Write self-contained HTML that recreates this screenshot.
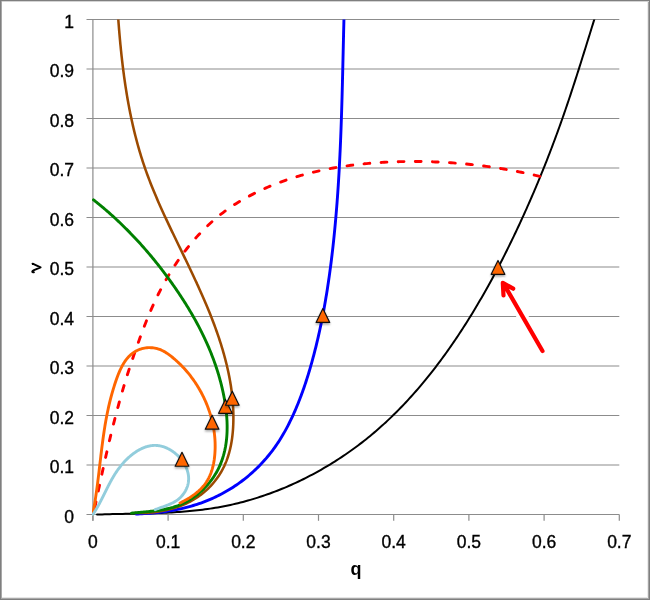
<!DOCTYPE html>
<html><head><meta charset="utf-8"><style>
html,body{margin:0;padding:0;background:#fff;}
body{width:650px;height:600px;position:relative;overflow:hidden;font-family:"Liberation Sans",sans-serif;color:#000;}
#frame{position:absolute;left:0;top:0;width:648px;height:598px;border:1px solid #7f7f7f;box-shadow:inset 1px 0 0 #a8a8a8, inset 0 1px 0 #d4d4d4, inset -1px 0 0 #a4a4a4, inset 0 -1px 0 #a8a8a8, inset -2px 0 0 #ececec, inset 0 -2px 0 #e6e6e6;}
#txt{position:absolute;left:0;top:0;width:650px;height:600px;will-change:transform;}
svg{position:absolute;left:0;top:0;}
.g{stroke:#8c8c8c;stroke-width:1.2;}
.yl{position:absolute;right:576px;-webkit-text-stroke:0.35px #000;font-size:17.5px;line-height:20px;text-align:right;white-space:nowrap;}
.xl{position:absolute;top:532px;-webkit-text-stroke:0.35px #000;width:60px;font-size:17.5px;line-height:20px;text-align:center;}
#qt{position:absolute;left:330px;top:559px;width:52px;text-align:center;font-size:18px;font-weight:bold;line-height:20px;}
#vt{position:absolute;left:25px;top:257px;width:20px;height:20px;font-size:19px;font-weight:bold;line-height:20px;text-align:center;transform:rotate(-90deg);}
</style></head><body>
<div id="frame"></div>
<svg width="650" height="600" viewBox="0 0 650 600">
<defs><filter id="sh" x="-50%" y="-50%" width="200%" height="200%"><feDropShadow dx="0" dy="1.6" stdDeviation="1.1" flood-color="#000" flood-opacity="0.35"/></filter><clipPath id="pc"><rect x="92" y="19.5" width="540" height="500"/></clipPath></defs>
<line x1="86.5" y1="514.50" x2="619.3" y2="514.50" class="g"/>
<line x1="86.5" y1="465.00" x2="619.3" y2="465.00" class="g"/>
<line x1="86.5" y1="415.50" x2="619.3" y2="415.50" class="g"/>
<line x1="86.5" y1="366.00" x2="619.3" y2="366.00" class="g"/>
<line x1="86.5" y1="316.50" x2="619.3" y2="316.50" class="g"/>
<line x1="86.5" y1="267.00" x2="619.3" y2="267.00" class="g"/>
<line x1="86.5" y1="217.50" x2="619.3" y2="217.50" class="g"/>
<line x1="86.5" y1="168.00" x2="619.3" y2="168.00" class="g"/>
<line x1="86.5" y1="118.50" x2="619.3" y2="118.50" class="g"/>
<line x1="86.5" y1="69.00" x2="619.3" y2="69.00" class="g"/>
<line x1="86.5" y1="19.50" x2="619.3" y2="19.50" class="g"/>
<line x1="92.90" y1="19.5" x2="92.90" y2="520.8" class="g"/>
<line x1="92.90" y1="514.5" x2="92.90" y2="520.8" class="g"/>
<line x1="168.10" y1="514.5" x2="168.10" y2="520.8" class="g"/>
<line x1="243.30" y1="514.5" x2="243.30" y2="520.8" class="g"/>
<line x1="318.50" y1="514.5" x2="318.50" y2="520.8" class="g"/>
<line x1="393.70" y1="514.5" x2="393.70" y2="520.8" class="g"/>
<line x1="468.90" y1="514.5" x2="468.90" y2="520.8" class="g"/>
<line x1="544.10" y1="514.5" x2="544.10" y2="520.8" class="g"/>
<line x1="619.30" y1="514.5" x2="619.30" y2="520.8" class="g"/>
<g clip-path="url(#pc)" fill="none" stroke-linecap="round" stroke-linejoin="round">
<path d="M97.04 514.54 L99.60 514.46 L102.16 514.38 L104.72 514.31 L107.29 514.24 L109.86 514.18 L112.43 514.12 L115.00 514.06 L117.57 514.01 L120.15 513.96 L122.72 513.91 L125.30 513.86 L127.88 513.81 L130.46 513.76 L133.04 513.71 L135.62 513.66 L138.20 513.60 L140.78 513.54 L143.36 513.48 L145.95 513.41 L148.53 513.34 L151.11 513.26 L153.69 513.18 L156.28 513.09 L158.86 513.00 L161.44 512.89 L164.02 512.78 L166.60 512.66 L169.18 512.53 L171.75 512.38 L174.33 512.23 L176.90 512.07 L179.48 511.89 L182.05 511.70 L184.62 511.50 L187.19 511.28 L189.75 511.05 L192.32 510.81 L194.88 510.55 L197.44 510.27 L199.99 509.98 L202.55 509.67 L205.10 509.34 L207.64 508.99 L210.19 508.62 L212.73 508.23 L215.27 507.82 L217.80 507.40 L220.33 506.95 L222.86 506.47 L225.39 505.98 L227.91 505.46 L230.42 504.92 L232.93 504.36 L235.44 503.78 L237.94 503.18 L240.44 502.55 L242.93 501.91 L245.41 501.24 L247.90 500.55 L250.37 499.84 L252.84 499.11 L255.31 498.36 L257.77 497.59 L260.22 496.80 L262.67 495.99 L265.11 495.16 L267.54 494.31 L269.97 493.44 L272.39 492.55 L274.80 491.64 L277.21 490.71 L279.61 489.76 L282.00 488.79 L284.39 487.81 L286.77 486.80 L289.14 485.78 L291.50 484.73 L293.85 483.67 L296.20 482.59 L298.53 481.49 L300.86 480.38 L303.18 479.24 L305.49 478.09 L307.79 476.92 L310.08 475.73 L312.37 474.52 L314.64 473.30 L316.91 472.06 L319.17 470.81 L321.41 469.53 L323.65 468.24 L325.88 466.94 L328.10 465.62 L330.31 464.28 L332.50 462.93 L334.69 461.56 L336.87 460.17 L339.04 458.77 L341.20 457.35 L343.34 455.92 L345.48 454.47 L347.60 453.01 L349.72 451.53 L351.82 450.04 L353.91 448.53 L355.98 447.01 L358.05 445.47 L360.10 443.91 L362.14 442.34 L364.17 440.76 L366.18 439.16 L368.19 437.55 L370.18 435.92 L372.15 434.27 L374.12 432.62 L376.07 430.95 L378.01 429.26 L379.94 427.56 L381.86 425.85 L383.76 424.13 L385.66 422.39 L387.54 420.64 L389.41 418.88 L391.27 417.10 L393.11 415.31 L394.95 413.51 L396.77 411.70 L398.58 409.87 L400.38 408.04 L402.17 406.19 L403.95 404.33 L405.71 402.46 L407.47 400.57 L409.21 398.68 L410.95 396.78 L412.67 394.86 L414.38 392.94 L416.08 391.00 L417.77 389.05 L419.45 387.10 L421.12 385.13 L422.78 383.16 L424.43 381.17 L426.07 379.18 L427.69 377.18 L429.31 375.16 L430.92 373.14 L432.52 371.11 L434.10 369.08 L435.68 367.03 L437.25 364.98 L438.80 362.91 L440.35 360.84 L441.89 358.76 L443.42 356.68 L444.94 354.59 L446.45 352.49 L447.95 350.38 L449.44 348.27 L450.92 346.15 L452.39 344.02 L453.85 341.88 L455.31 339.75 L456.75 337.60 L458.19 335.45 L459.61 333.29 L461.03 331.13 L462.44 328.96 L463.84 326.79 L465.23 324.61 L466.62 322.43 L467.99 320.24 L469.36 318.05 L470.72 315.85 L472.07 313.65 L473.41 311.45 L474.74 309.24 L476.07 307.02 L477.39 304.81 L478.70 302.59 L480.00 300.36 L481.29 298.13 L482.58 295.90 L483.86 293.66 L485.13 291.42 L486.39 289.18 L487.65 286.93 L488.90 284.68 L490.14 282.42 L491.38 280.16 L492.61 277.90 L493.83 275.63 L495.04 273.36 L496.25 271.09 L497.45 268.82 L498.64 266.54 L499.83 264.25 L501.01 261.97 L502.19 259.68 L503.36 257.38 L504.52 255.09 L505.68 252.79 L506.83 250.49 L507.97 248.18 L509.11 245.87 L510.24 243.56 L511.37 241.25 L512.49 238.93 L513.61 236.61 L514.72 234.29 L515.82 231.96 L516.92 229.63 L518.02 227.30 L519.11 224.97 L520.19 222.63 L521.27 220.29 L522.34 217.95 L523.41 215.61 L524.47 213.26 L525.53 210.91 L526.59 208.56 L527.63 206.20 L528.67 203.85 L529.71 201.49 L530.74 199.13 L531.77 196.76 L532.79 194.40 L533.81 192.03 L534.82 189.65 L535.82 187.28 L536.82 184.91 L537.82 182.53 L538.81 180.15 L539.79 177.76 L540.77 175.38 L541.75 172.99 L542.72 170.60 L543.68 168.21 L544.64 165.82 L545.59 163.42 L546.54 161.02 L547.48 158.62 L548.42 156.22 L549.35 153.82 L550.28 151.41 L551.20 149.00 L552.12 146.59 L553.03 144.18 L553.94 141.77 L554.84 139.35 L555.74 136.94 L556.63 134.52 L557.52 132.09 L558.40 129.67 L559.27 127.25 L560.14 124.82 L561.01 122.39 L561.87 119.96 L562.73 117.53 L563.58 115.10 L564.42 112.66 L565.26 110.23 L566.10 107.79 L566.93 105.35 L567.76 102.91 L568.58 100.47 L569.40 98.02 L570.21 95.58 L571.02 93.13 L571.83 90.68 L572.63 88.24 L573.43 85.79 L574.23 83.34 L575.03 80.88 L575.82 78.43 L576.61 75.98 L577.39 73.52 L578.18 71.07 L578.96 68.61 L579.74 66.16 L580.51 63.70 L581.29 61.24 L582.06 58.78 L582.83 56.32 L583.60 53.86 L584.37 51.40 L585.14 48.94 L585.91 46.48 L586.67 44.02 L587.44 41.56 L588.20 39.10 L588.97 36.64 L589.73 34.18 L590.49 31.71 L591.26 29.25 L592.02 26.79 L592.79 24.33 L593.55 21.87 L594.32 19.41" stroke="#000" stroke-width="2"/>
<path d="M93.34 514.57 L93.80 512.40 L94.25 510.23 L94.70 508.06 L95.16 505.89 L95.61 503.71 L96.07 501.54 L96.52 499.37 L96.98 497.19 L97.44 495.02 L97.90 492.85 L98.35 490.67 L98.81 488.50 L99.28 486.32 L99.74 484.15 L100.20 481.98 L100.67 479.80 L101.14 477.63 L101.61 475.46 L102.08 473.28 L102.55 471.11 L103.03 468.94 L103.50 466.77 L103.98 464.60 L104.47 462.43 L104.95 460.25 L105.44 458.08 L105.93 455.92 L106.42 453.75 L106.92 451.58 L107.41 449.41 L107.91 447.24 L108.42 445.08 L108.93 442.91 L109.44 440.75 L109.95 438.59 L110.47 436.42 L110.99 434.26 L111.52 432.10 L112.05 429.94 L112.58 427.78 L113.12 425.63 L113.66 423.47 L114.21 421.32 L114.76 419.16 L115.31 417.01 L115.87 414.86 L116.44 412.71 L117.00 410.56 L117.58 408.42 L118.16 406.27 L118.74 404.13 L119.33 401.99 L119.92 399.85 L120.52 397.71 L121.13 395.57 L121.74 393.43 L122.36 391.30 L122.98 389.17 L123.61 387.04 L124.24 384.91 L124.88 382.79 L125.53 380.66 L126.18 378.54 L126.84 376.42 L127.51 374.30 L128.18 372.19 L128.86 370.08 L129.54 367.97 L130.24 365.86 L130.93 363.75 L131.64 361.64 L132.35 359.54 L133.06 357.44 L133.78 355.34 L134.51 353.24 L135.24 351.15 L135.98 349.05 L136.72 346.96 L137.47 344.86 L138.22 342.77 L138.97 340.68 L139.73 338.60 L140.50 336.51 L141.27 334.42 L142.04 332.34 L142.82 330.26 L143.61 328.18 L144.41 326.10 L145.21 324.03 L146.02 321.96 L146.84 319.90 L147.68 317.83 L148.52 315.78 L149.37 313.72 L150.24 311.68 L151.12 309.64 L152.01 307.60 L152.91 305.57 L153.83 303.54 L154.77 301.53 L155.71 299.51 L156.67 297.51 L157.65 295.51 L158.64 293.52 L159.64 291.54 L160.66 289.56 L161.69 287.60 L162.74 285.64 L163.80 283.69 L164.88 281.74 L165.97 279.81 L167.08 277.89 L168.20 275.97 L169.34 274.07 L170.50 272.17 L171.66 270.28 L172.85 268.41 L174.05 266.54 L175.27 264.69 L176.50 262.84 L177.75 261.01 L179.01 259.19 L180.29 257.38 L181.59 255.58 L182.91 253.80 L184.24 252.02 L185.58 250.26 L186.95 248.51 L188.33 246.78 L189.72 245.06 L191.14 243.35 L192.57 241.65 L194.02 239.97 L195.49 238.30 L196.97 236.65 L198.47 235.01 L199.99 233.38 L201.53 231.77 L203.08 230.18 L204.66 228.61 L206.25 227.05 L207.85 225.51 L209.48 223.98 L211.12 222.48 L212.79 220.99 L214.47 219.53 L216.16 218.09 L217.88 216.66 L219.61 215.26 L221.37 213.88 L223.14 212.53 L224.93 211.20 L226.73 209.89 L228.55 208.60 L230.39 207.34 L232.25 206.10 L234.12 204.88 L236.00 203.68 L237.90 202.50 L239.81 201.35 L241.73 200.22 L243.66 199.10 L245.61 198.01 L247.56 196.94 L249.53 195.89 L251.50 194.85 L253.48 193.84 L255.47 192.84 L257.46 191.87 L259.47 190.91 L261.48 189.97 L263.49 189.05 L265.52 188.15 L267.55 187.26 L269.59 186.40 L271.63 185.55 L273.69 184.72 L275.74 183.90 L277.81 183.11 L279.88 182.33 L281.96 181.57 L284.04 180.82 L286.13 180.09 L288.22 179.38 L290.32 178.69 L292.43 178.01 L294.54 177.34 L296.66 176.70 L298.78 176.07 L300.91 175.45 L303.04 174.85 L305.17 174.27 L307.32 173.70 L309.46 173.15 L311.61 172.61 L313.77 172.08 L315.93 171.57 L318.09 171.08 L320.25 170.60 L322.43 170.13 L324.60 169.68 L326.78 169.24 L328.96 168.82 L331.14 168.41 L333.33 168.01 L335.52 167.63 L337.72 167.26 L339.91 166.90 L342.11 166.56 L344.31 166.23 L346.52 165.91 L348.73 165.60 L350.94 165.31 L353.15 165.03 L355.36 164.76 L357.58 164.50 L359.79 164.25 L362.01 164.02 L364.23 163.80 L366.45 163.58 L368.68 163.38 L370.90 163.19 L373.13 163.02 L375.35 162.85 L377.58 162.69 L379.81 162.54 L382.03 162.41 L384.26 162.28 L386.49 162.17 L388.72 162.06 L390.95 161.96 L393.18 161.87 L395.41 161.80 L397.64 161.73 L399.86 161.67 L402.09 161.62 L404.32 161.58 L406.54 161.54 L408.77 161.52 L411.00 161.50 L413.22 161.50 L415.44 161.50 L417.67 161.51 L419.89 161.53 L422.11 161.56 L424.33 161.60 L426.55 161.65 L428.77 161.70 L430.99 161.77 L433.21 161.84 L435.43 161.93 L437.65 162.02 L439.86 162.12 L442.08 162.23 L444.29 162.35 L446.51 162.48 L448.72 162.62 L450.93 162.76 L453.15 162.92 L455.36 163.08 L457.57 163.26 L459.78 163.44 L461.99 163.63 L464.19 163.83 L466.40 164.04 L468.61 164.26 L470.81 164.49 L473.02 164.73 L475.22 164.97 L477.42 165.23 L479.63 165.49 L481.83 165.76 L484.03 166.05 L486.23 166.34 L488.42 166.64 L490.62 166.95 L492.82 167.27 L495.01 167.60 L497.21 167.93 L499.40 168.28 L501.59 168.64 L503.79 169.00 L505.98 169.37 L508.17 169.76 L510.35 170.15 L512.54 170.55 L514.73 170.96 L516.91 171.38 L519.10 171.81 L521.28 172.25 L523.47 172.70 L525.65 173.15 L527.83 173.62 L530.01 174.09 L532.19 174.58 L534.36 175.07 L536.54 175.57 L538.71 176.09 L540.89 176.61" stroke="#f00" stroke-width="2.9" stroke-dasharray="5.80 11.32" stroke-dashoffset="10.07"/>
<path d="M136.00 514.03 L137.99 513.96 L139.99 513.88 L141.98 513.78 L143.98 513.67 L145.97 513.54 L147.97 513.41 L149.96 513.26 L151.96 513.09 L153.95 512.91 L155.95 512.71 L157.94 512.50 L159.93 512.27 L161.92 512.03 L163.91 511.76 L165.90 511.48 L167.88 511.19 L169.86 510.87 L171.84 510.54 L173.81 510.18 L175.78 509.81 L177.74 509.42 L179.70 509.01 L181.66 508.57 L183.61 508.12 L185.55 507.64 L187.49 507.14 L189.42 506.62 L191.35 506.08 L193.27 505.51 L195.18 504.92 L197.08 504.31 L198.98 503.67 L200.87 503.01 L202.75 502.33 L204.62 501.62 L206.48 500.89 L208.34 500.13 L210.18 499.35 L212.01 498.55 L213.84 497.73 L215.65 496.88 L217.45 496.01 L219.24 495.12 L221.02 494.20 L222.79 493.26 L224.54 492.30 L226.28 491.32 L228.01 490.32 L229.73 489.29 L231.43 488.24 L233.12 487.17 L234.79 486.07 L236.45 484.96 L238.10 483.82 L239.73 482.66 L241.34 481.48 L242.94 480.28 L244.52 479.06 L246.09 477.81 L247.64 476.54 L249.17 475.26 L250.69 473.95 L252.19 472.63 L253.67 471.28 L255.13 469.91 L256.58 468.53 L258.01 467.13 L259.42 465.70 L260.81 464.26 L262.18 462.81 L263.53 461.33 L264.86 459.84 L266.18 458.33 L267.47 456.80 L268.75 455.26 L270.00 453.70 L271.24 452.12 L272.45 450.53 L273.64 448.93 L274.81 447.30 L275.96 445.67 L277.09 444.02 L278.20 442.36 L279.29 440.68 L280.36 438.99 L281.41 437.29 L282.44 435.57 L283.45 433.85 L284.44 432.11 L285.42 430.36 L286.38 428.61 L287.32 426.84 L288.24 425.06 L289.15 423.28 L290.04 421.48 L290.92 419.68 L291.78 417.87 L292.63 416.06 L293.46 414.24 L294.28 412.41 L295.09 410.58 L295.88 408.74 L296.66 406.89 L297.43 405.04 L298.18 403.18 L298.92 401.32 L299.65 399.46 L300.37 397.58 L301.08 395.71 L301.77 393.83 L302.46 391.94 L303.13 390.05 L303.79 388.16 L304.44 386.27 L305.08 384.36 L305.72 382.46 L306.34 380.55 L306.95 378.64 L307.55 376.73 L308.15 374.82 L308.73 372.90 L309.31 370.98 L309.88 369.06 L310.44 367.13 L310.99 365.20 L311.54 363.28 L312.08 361.35 L312.61 359.41 L313.13 357.48 L313.64 355.55 L314.15 353.61 L314.65 351.67 L315.15 349.73 L315.64 347.79 L316.12 345.85 L316.59 343.90 L317.06 341.96 L317.52 340.01 L317.97 338.06 L318.42 336.11 L318.86 334.16 L319.29 332.21 L319.72 330.25 L320.14 328.30 L320.55 326.34 L320.96 324.38 L321.37 322.43 L321.76 320.46 L322.15 318.50 L322.54 316.54 L322.92 314.58 L323.29 312.61 L323.66 310.65 L324.02 308.68 L324.38 306.71 L324.73 304.74 L325.08 302.77 L325.42 300.80 L325.75 298.83 L326.08 296.86 L326.41 294.89 L326.73 292.91 L327.05 290.94 L327.36 288.96 L327.66 286.98 L327.96 285.01 L328.26 283.03 L328.55 281.05 L328.84 279.07 L329.12 277.09 L329.40 275.11 L329.68 273.13 L329.95 271.15 L330.21 269.16 L330.48 267.18 L330.73 265.20 L330.99 263.21 L331.24 261.23 L331.49 259.25 L331.73 257.26 L331.97 255.27 L332.20 253.29 L332.43 251.30 L332.66 249.32 L332.89 247.33 L333.11 245.34 L333.32 243.35 L333.54 241.36 L333.75 239.37 L333.96 237.38 L334.16 235.40 L334.36 233.40 L334.55 231.41 L334.75 229.42 L334.94 227.43 L335.12 225.44 L335.31 223.45 L335.49 221.46 L335.67 219.46 L335.84 217.47 L336.01 215.48 L336.18 213.48 L336.34 211.49 L336.51 209.49 L336.67 207.50 L336.82 205.51 L336.98 203.51 L337.13 201.51 L337.27 199.52 L337.42 197.52 L337.56 195.53 L337.70 193.53 L337.84 191.53 L337.97 189.54 L338.11 187.54 L338.24 185.54 L338.36 183.54 L338.49 181.54 L338.61 179.55 L338.73 177.55 L338.85 175.55 L338.97 173.55 L339.08 171.55 L339.19 169.55 L339.30 167.55 L339.41 165.55 L339.51 163.55 L339.61 161.55 L339.71 159.55 L339.81 157.55 L339.91 155.55 L340.00 153.55 L340.10 151.55 L340.19 149.55 L340.28 147.55 L340.37 145.55 L340.45 143.55 L340.54 141.55 L340.62 139.54 L340.70 137.54 L340.78 135.54 L340.86 133.54 L340.93 131.54 L341.01 129.54 L341.08 127.53 L341.15 125.53 L341.22 123.53 L341.29 121.53 L341.36 119.53 L341.43 117.53 L341.49 115.52 L341.56 113.52 L341.62 111.52 L341.68 109.52 L341.74 107.52 L341.80 105.51 L341.86 103.51 L341.92 101.51 L341.98 99.51 L342.04 97.51 L342.09 95.50 L342.15 93.50 L342.20 91.50 L342.25 89.50 L342.30 87.50 L342.36 85.49 L342.41 83.49 L342.46 81.49 L342.51 79.49 L342.56 77.49 L342.61 75.49 L342.66 73.49 L342.70 71.49 L342.75 69.49 L342.80 67.48 L342.85 65.48 L342.89 63.48 L342.94 61.48 L342.99 59.48 L343.03 57.48 L343.08 55.48 L343.13 53.48 L343.17 51.48 L343.22 49.49 L343.27 47.49 L343.31 45.49 L343.36 43.49 L343.41 41.49 L343.45 39.49 L343.50 37.49 L343.55 35.50 L343.59 33.50 L343.64 31.50 L343.69 29.50 L343.74 27.51 L343.79 25.51 L343.84 23.51 L343.89 21.52 L343.94 19.52" stroke="#0000ff" stroke-width="2.9"/>
<path d="M118.30 19.52 L118.44 21.42 L118.59 23.32 L118.74 25.22 L118.89 27.13 L119.04 29.03 L119.20 30.94 L119.36 32.84 L119.52 34.75 L119.69 36.66 L119.86 38.57 L120.03 40.48 L120.21 42.39 L120.39 44.30 L120.58 46.21 L120.77 48.12 L120.96 50.03 L121.16 51.95 L121.36 53.86 L121.57 55.77 L121.78 57.68 L121.99 59.60 L122.21 61.51 L122.43 63.42 L122.66 65.33 L122.90 67.25 L123.14 69.16 L123.38 71.07 L123.63 72.98 L123.88 74.89 L124.14 76.80 L124.41 78.71 L124.68 80.62 L124.95 82.53 L125.24 84.44 L125.52 86.34 L125.82 88.25 L126.12 90.16 L126.42 92.06 L126.73 93.96 L127.05 95.87 L127.37 97.77 L127.70 99.67 L128.04 101.56 L128.38 103.46 L128.73 105.36 L129.09 107.25 L129.45 109.14 L129.82 111.04 L130.19 112.92 L130.58 114.81 L130.97 116.70 L131.37 118.58 L131.77 120.47 L132.18 122.35 L132.60 124.22 L133.03 126.10 L133.47 127.97 L133.91 129.85 L134.36 131.72 L134.82 133.58 L135.29 135.45 L135.76 137.31 L136.24 139.17 L136.73 141.03 L137.23 142.88 L137.74 144.74 L138.26 146.59 L138.78 148.43 L139.32 150.28 L139.86 152.12 L140.41 153.96 L140.97 155.79 L141.54 157.62 L142.12 159.45 L142.70 161.28 L143.30 163.10 L143.91 164.92 L144.52 166.73 L145.15 168.55 L145.78 170.35 L146.42 172.16 L147.08 173.96 L147.74 175.76 L148.41 177.56 L149.09 179.35 L149.78 181.14 L150.47 182.92 L151.17 184.71 L151.88 186.49 L152.60 188.27 L153.33 190.04 L154.06 191.82 L154.80 193.59 L155.54 195.35 L156.29 197.12 L157.05 198.88 L157.81 200.65 L158.58 202.41 L159.36 204.16 L160.14 205.92 L160.92 207.67 L161.71 209.42 L162.50 211.17 L163.30 212.92 L164.10 214.67 L164.91 216.42 L165.72 218.16 L166.53 219.90 L167.35 221.65 L168.17 223.39 L168.99 225.13 L169.82 226.86 L170.64 228.60 L171.47 230.34 L172.31 232.08 L173.14 233.81 L173.97 235.55 L174.81 237.28 L175.65 239.01 L176.49 240.75 L177.33 242.48 L178.16 244.21 L179.00 245.95 L179.84 247.68 L180.68 249.41 L181.52 251.14 L182.36 252.88 L183.20 254.61 L184.04 256.34 L184.88 258.08 L185.72 259.81 L186.55 261.54 L187.38 263.28 L188.22 265.01 L189.05 266.75 L189.87 268.49 L190.70 270.22 L191.52 271.96 L192.35 273.70 L193.16 275.44 L193.98 277.18 L194.79 278.92 L195.60 280.67 L196.41 282.41 L197.21 284.16 L198.01 285.90 L198.80 287.65 L199.59 289.40 L200.38 291.15 L201.16 292.90 L201.94 294.66 L202.71 296.41 L203.48 298.17 L204.24 299.93 L205.00 301.69 L205.75 303.46 L206.50 305.22 L207.24 306.99 L207.97 308.76 L208.70 310.53 L209.42 312.31 L210.14 314.09 L210.84 315.87 L211.54 317.65 L212.24 319.43 L212.92 321.22 L213.60 323.01 L214.27 324.80 L214.94 326.60 L215.59 328.40 L216.24 330.20 L216.88 332.00 L217.51 333.81 L218.13 335.62 L218.74 337.43 L219.35 339.25 L219.94 341.07 L220.53 342.89 L221.10 344.72 L221.67 346.55 L222.22 348.39 L222.77 350.23 L223.30 352.07 L223.83 353.91 L224.34 355.76 L224.84 357.62 L225.34 359.47 L225.81 361.33 L226.28 363.20 L226.74 365.06 L227.18 366.93 L227.61 368.81 L228.03 370.69 L228.43 372.57 L228.82 374.45 L229.19 376.34 L229.56 378.23 L229.90 380.12 L230.24 382.02 L230.55 383.92 L230.86 385.82 L231.14 387.73 L231.41 389.64 L231.67 391.55 L231.90 393.46 L232.13 395.38 L232.33 397.30 L232.52 399.22 L232.69 401.15 L232.84 403.08 L232.97 405.01 L233.09 406.94 L233.19 408.88 L233.26 410.82 L233.32 412.76 L233.36 414.70 L233.38 416.65 L233.38 418.59 L233.36 420.54 L233.32 422.50 L233.25 424.45 L233.17 426.40 L233.06 428.35 L232.92 430.30 L232.76 432.24 L232.57 434.18 L232.36 436.11 L232.11 438.04 L231.84 439.96 L231.54 441.88 L231.20 443.78 L230.84 445.67 L230.44 447.56 L230.01 449.43 L229.54 451.29 L229.04 453.13 L228.50 454.96 L227.93 456.78 L227.31 458.58 L226.66 460.36 L225.97 462.12 L225.24 463.86 L224.47 465.59 L223.65 467.29 L222.79 468.97 L221.90 470.63 L220.96 472.26 L219.98 473.87 L218.97 475.46 L217.91 477.02 L216.82 478.56 L215.69 480.06 L214.53 481.54 L213.32 483.00 L212.09 484.42 L210.81 485.81 L209.51 487.18 L208.17 488.51 L206.79 489.81 L205.38 491.08 L203.94 492.31 L202.47 493.51 L200.97 494.67 L199.44 495.80 L197.88 496.90 L196.28 497.95 L194.66 498.97 L193.02 499.95 L191.34 500.89 L189.64 501.80 L187.91 502.66 L186.16 503.49 L184.39 504.28 L182.59 505.03 L180.78 505.75 L178.95 506.43 L177.10 507.07 L175.23 507.68 L173.36 508.26 L171.47 508.80 L169.56 509.30 L167.65 509.78 L165.73 510.22 L163.80 510.62 L161.86 511.00 L159.92 511.34 L157.98 511.65 L156.03 511.93 L154.08 512.18 L152.14 512.39 L150.19 512.58 L148.25 512.74 L146.31 512.87 L144.38 512.97 L142.45 513.04 L140.54 513.08 L138.63 513.10 L136.73 513.09 L134.85 513.05" stroke="#9c4a00" stroke-width="2.55"/>
<path d="M93.50 199.81 L94.58 200.67 L95.66 201.53 L96.74 202.39 L97.82 203.27 L98.89 204.14 L99.96 205.02 L101.03 205.91 L102.10 206.80 L103.16 207.69 L104.22 208.59 L105.27 209.49 L106.32 210.40 L107.37 211.31 L108.42 212.22 L109.46 213.14 L110.50 214.07 L111.54 214.99 L112.57 215.93 L113.60 216.86 L114.63 217.80 L115.65 218.75 L116.67 219.70 L117.69 220.65 L118.70 221.61 L119.71 222.57 L120.72 223.53 L121.72 224.50 L122.72 225.47 L123.72 226.45 L124.72 227.43 L125.71 228.41 L126.70 229.40 L127.68 230.39 L128.66 231.38 L129.64 232.38 L130.61 233.39 L131.59 234.39 L132.55 235.40 L133.52 236.41 L134.48 237.43 L135.44 238.45 L136.39 239.47 L137.34 240.50 L138.29 241.53 L139.24 242.57 L140.18 243.60 L141.11 244.64 L142.05 245.69 L142.98 246.74 L143.91 247.79 L144.83 248.84 L145.75 249.90 L146.67 250.96 L147.58 252.02 L148.49 253.08 L149.40 254.15 L150.30 255.23 L151.20 256.30 L152.09 257.38 L152.99 258.46 L153.88 259.54 L154.76 260.63 L155.64 261.72 L156.52 262.81 L157.39 263.91 L158.27 265.01 L159.13 266.11 L160.00 267.21 L160.86 268.32 L161.71 269.43 L162.57 270.54 L163.41 271.65 L164.26 272.77 L165.10 273.89 L165.94 275.01 L166.77 276.14 L167.60 277.26 L168.43 278.39 L169.25 279.52 L170.07 280.66 L170.89 281.79 L171.70 282.93 L172.51 284.07 L173.31 285.22 L174.12 286.36 L174.91 287.51 L175.71 288.66 L176.50 289.81 L177.28 290.97 L178.06 292.12 L178.84 293.28 L179.61 294.44 L180.38 295.60 L181.15 296.77 L181.91 297.93 L182.67 299.10 L183.42 300.28 L184.17 301.45 L184.92 302.63 L185.66 303.80 L186.39 304.98 L187.12 306.17 L187.85 307.35 L188.57 308.54 L189.29 309.73 L190.00 310.92 L190.71 312.12 L191.41 313.32 L192.11 314.52 L192.80 315.72 L193.49 316.93 L194.17 318.13 L194.85 319.34 L195.53 320.56 L196.19 321.77 L196.86 322.99 L197.51 324.21 L198.16 325.44 L198.81 326.66 L199.45 327.89 L200.09 329.12 L200.72 330.36 L201.34 331.59 L201.96 332.83 L202.57 334.08 L203.18 335.32 L203.78 336.57 L204.37 337.82 L204.96 339.08 L205.54 340.34 L206.12 341.60 L206.69 342.86 L207.26 344.12 L207.81 345.39 L208.37 346.67 L208.91 347.94 L209.45 349.22 L209.98 350.50 L210.51 351.79 L211.03 353.07 L211.54 354.36 L212.05 355.66 L212.55 356.95 L213.04 358.25 L213.53 359.56 L214.00 360.87 L214.48 362.18 L214.94 363.49 L215.40 364.80 L215.85 366.12 L216.29 367.45 L216.73 368.77 L217.16 370.10 L217.58 371.44 L217.99 372.77 L218.40 374.11 L218.80 375.46 L219.19 376.81 L219.58 378.16 L219.95 379.51 L220.32 380.87 L220.68 382.23 L221.04 383.59 L221.38 384.96 L221.72 386.33 L222.05 387.71 L222.37 389.09 L222.68 390.47 L222.99 391.86 L223.28 393.25 L223.57 394.64 L223.85 396.04 L224.12 397.43 L224.38 398.84 L224.63 400.24 L224.87 401.64 L225.10 403.05 L225.31 404.46 L225.52 405.87 L225.72 407.28 L225.90 408.69 L226.08 410.11 L226.24 411.52 L226.39 412.93 L226.52 414.35 L226.65 415.76 L226.76 417.17 L226.85 418.58 L226.94 420.00 L227.01 421.41 L227.06 422.81 L227.10 424.22 L227.13 425.63 L227.14 427.03 L227.13 428.43 L227.11 429.83 L227.08 431.23 L227.03 432.62 L226.96 434.01 L226.87 435.40 L226.77 436.78 L226.65 438.16 L226.52 439.54 L226.36 440.91 L226.19 442.27 L226.00 443.64 L225.79 444.99 L225.57 446.35 L225.32 447.69 L225.05 449.03 L224.77 450.37 L224.46 451.70 L224.14 453.02 L223.79 454.34 L223.43 455.65 L223.04 456.95 L222.63 458.25 L222.20 459.54 L221.75 460.82 L221.28 462.09 L220.78 463.36 L220.26 464.62 L219.72 465.86 L219.16 467.10 L218.57 468.34 L217.96 469.56 L217.33 470.77 L216.67 471.97 L215.98 473.17 L215.27 474.35 L214.54 475.52 L213.78 476.69 L213.00 477.84 L212.20 478.97 L211.37 480.10 L210.52 481.21 L209.65 482.31 L208.76 483.40 L207.84 484.47 L206.91 485.53 L205.95 486.57 L204.98 487.59 L203.99 488.60 L202.97 489.59 L201.94 490.57 L200.89 491.52 L199.83 492.46 L198.75 493.38 L197.65 494.27 L196.53 495.15 L195.40 496.01 L194.25 496.84 L193.09 497.66 L191.92 498.45 L190.73 499.22 L189.53 499.96 L188.31 500.69 L187.09 501.38 L185.85 502.06 L184.60 502.70 L183.34 503.32 L182.06 503.92 L180.78 504.48 L179.49 505.02 L178.19 505.54 L176.88 506.02 L175.56 506.48 L174.24 506.91 L172.91 507.32 L171.57 507.70 L170.22 508.06 L168.87 508.40 L167.51 508.72 L166.14 509.02 L164.77 509.30 L163.40 509.56 L162.02 509.81 L160.64 510.04 L159.26 510.25 L157.87 510.45 L156.48 510.64 L155.09 510.82 L153.69 510.99 L152.30 511.15 L150.90 511.30 L149.51 511.45 L148.11 511.58 L146.72 511.71 L145.32 511.84 L143.93 511.97 L142.53 512.09 L141.14 512.21 L139.76 512.33 L138.37 512.45 L136.99 512.58 L135.61 512.70 L134.24 512.83 L132.87 512.97 L131.51 513.11" stroke="#008000" stroke-width="2.9"/>
<path d="M92.68 514.54 L92.93 513.26 L93.17 511.98 L93.41 510.70 L93.64 509.42 L93.87 508.14 L94.10 506.85 L94.32 505.57 L94.53 504.29 L94.74 503.01 L94.95 501.73 L95.16 500.45 L95.36 499.17 L95.55 497.89 L95.75 496.61 L95.94 495.33 L96.12 494.05 L96.31 492.77 L96.49 491.50 L96.66 490.22 L96.84 488.94 L97.01 487.66 L97.18 486.38 L97.35 485.10 L97.51 483.83 L97.68 482.55 L97.84 481.27 L98.00 480.00 L98.16 478.72 L98.31 477.44 L98.47 476.17 L98.62 474.89 L98.77 473.62 L98.93 472.34 L99.08 471.06 L99.23 469.79 L99.38 468.51 L99.53 467.24 L99.68 465.97 L99.82 464.69 L99.97 463.42 L100.12 462.15 L100.27 460.87 L100.42 459.60 L100.57 458.33 L100.72 457.05 L100.87 455.78 L101.02 454.51 L101.18 453.24 L101.33 451.97 L101.48 450.70 L101.64 449.43 L101.80 448.16 L101.96 446.89 L102.12 445.62 L102.28 444.35 L102.45 443.08 L102.62 441.81 L102.79 440.54 L102.96 439.27 L103.13 438.00 L103.31 436.74 L103.49 435.47 L103.68 434.20 L103.86 432.93 L104.05 431.67 L104.24 430.40 L104.44 429.14 L104.64 427.87 L104.84 426.61 L105.05 425.34 L105.26 424.08 L105.48 422.81 L105.70 421.55 L105.92 420.28 L106.15 419.02 L106.39 417.76 L106.63 416.50 L106.87 415.23 L107.12 413.97 L107.37 412.71 L107.63 411.45 L107.89 410.19 L108.16 408.93 L108.44 407.67 L108.72 406.41 L109.01 405.15 L109.30 403.89 L109.60 402.63 L109.91 401.37 L110.22 400.12 L110.54 398.86 L110.86 397.60 L111.20 396.35 L111.54 395.09 L111.88 393.83 L112.24 392.58 L112.60 391.32 L112.97 390.07 L113.34 388.81 L113.73 387.56 L114.12 386.31 L114.52 385.05 L114.93 383.80 L115.35 382.55 L115.77 381.30 L116.21 380.05 L116.65 378.79 L117.10 377.55 L117.57 376.30 L118.04 375.06 L118.53 373.83 L119.04 372.60 L119.55 371.39 L120.09 370.19 L120.64 369.00 L121.21 367.82 L121.81 366.66 L122.42 365.52 L123.05 364.40 L123.71 363.31 L124.39 362.23 L125.10 361.18 L125.83 360.16 L126.60 359.16 L127.39 358.19 L128.21 357.26 L129.06 356.35 L129.94 355.49 L130.86 354.65 L131.81 353.86 L132.80 353.10 L133.82 352.39 L134.88 351.72 L135.98 351.09 L137.11 350.50 L138.28 349.97 L139.48 349.49 L140.70 349.06 L141.94 348.68 L143.20 348.36 L144.47 348.09 L145.76 347.89 L147.05 347.75 L148.34 347.67 L149.64 347.64 L150.93 347.68 L152.22 347.77 L153.51 347.92 L154.78 348.12 L156.04 348.38 L157.29 348.69 L158.52 349.05 L159.72 349.46 L160.91 349.93 L162.07 350.45 L163.20 351.01 L164.32 351.61 L165.41 352.25 L166.48 352.93 L167.54 353.63 L168.58 354.37 L169.60 355.13 L170.62 355.90 L171.62 356.69 L172.62 357.50 L173.60 358.31 L174.58 359.14 L175.55 359.99 L176.51 360.84 L177.46 361.70 L178.40 362.58 L179.33 363.47 L180.25 364.37 L181.16 365.28 L182.06 366.20 L182.95 367.13 L183.83 368.07 L184.70 369.03 L185.56 369.99 L186.41 370.96 L187.25 371.95 L188.08 372.94 L188.90 373.94 L189.71 374.96 L190.50 375.98 L191.29 377.01 L192.07 378.05 L192.83 379.10 L193.58 380.16 L194.33 381.22 L195.06 382.30 L195.77 383.38 L196.48 384.47 L197.18 385.57 L197.86 386.68 L198.54 387.79 L199.20 388.91 L199.84 390.04 L200.48 391.17 L201.11 392.32 L201.72 393.47 L202.32 394.62 L202.90 395.78 L203.48 396.95 L204.04 398.12 L204.59 399.30 L205.13 400.49 L205.65 401.68 L206.16 402.88 L206.66 404.08 L207.14 405.29 L207.62 406.50 L208.07 407.72 L208.52 408.94 L208.95 410.16 L209.37 411.39 L209.77 412.63 L210.16 413.87 L210.54 415.11 L210.90 416.35 L211.25 417.60 L211.58 418.85 L211.90 420.11 L212.20 421.37 L212.50 422.63 L212.77 423.89 L213.03 425.16 L213.28 426.43 L213.51 427.70 L213.73 428.97 L213.93 430.25 L214.12 431.52 L214.29 432.80 L214.45 434.08 L214.59 435.36 L214.71 436.64 L214.82 437.92 L214.92 439.21 L215.00 440.49 L215.06 441.77 L215.11 443.06 L215.14 444.34 L215.15 445.63 L215.15 446.91 L215.14 448.19 L215.10 449.47 L215.05 450.76 L214.98 452.04 L214.90 453.32 L214.80 454.59 L214.68 455.87 L214.55 457.15 L214.40 458.42 L214.23 459.69 L214.03 460.95 L213.82 462.21 L213.59 463.47 L213.33 464.72 L213.06 465.96 L212.75 467.19 L212.43 468.42 L212.08 469.63 L211.70 470.84 L211.29 472.04 L210.86 473.22 L210.40 474.40 L209.91 475.56 L209.39 476.70 L208.84 477.84 L208.25 478.96 L207.64 480.06 L206.99 481.15 L206.31 482.22 L205.59 483.27 L204.84 484.30 L204.05 485.32 L203.22 486.32 L202.36 487.29 L201.47 488.25 L200.55 489.19 L199.60 490.10 L198.62 491.00 L197.62 491.87 L196.60 492.73 L195.56 493.56 L194.50 494.38 L193.42 495.17 L192.33 495.94 L191.23 496.69 L190.12 497.42 L189.01 498.12 L187.88 498.81 L186.76 499.47 L185.63 500.11 L184.50 500.73 L183.38 501.32 L182.26 501.89 L181.15 502.44 L180.04 502.97" stroke="#ff6600" stroke-width="2.9"/>
<path d="M92.91 514.53 L93.29 513.95 L93.67 513.37 L94.04 512.79 L94.40 512.21 L94.77 511.63 L95.12 511.05 L95.48 510.47 L95.83 509.89 L96.17 509.31 L96.52 508.72 L96.85 508.14 L97.19 507.56 L97.52 506.97 L97.85 506.39 L98.18 505.80 L98.50 505.22 L98.82 504.63 L99.13 504.04 L99.45 503.46 L99.76 502.87 L100.07 502.29 L100.38 501.70 L100.68 501.11 L100.99 500.53 L101.29 499.94 L101.59 499.35 L101.89 498.77 L102.18 498.18 L102.48 497.59 L102.77 497.01 L103.07 496.42 L103.36 495.83 L103.65 495.25 L103.94 494.66 L104.23 494.08 L104.52 493.49 L104.81 492.91 L105.10 492.33 L105.39 491.74 L105.68 491.16 L105.96 490.58 L106.25 490.00 L106.54 489.41 L106.83 488.83 L107.13 488.25 L107.42 487.67 L107.71 487.10 L108.00 486.52 L108.30 485.94 L108.59 485.36 L108.89 484.79 L109.19 484.21 L109.49 483.64 L109.79 483.07 L110.10 482.50 L110.41 481.93 L110.71 481.36 L111.03 480.79 L111.34 480.22 L111.65 479.65 L111.97 479.09 L112.29 478.52 L112.62 477.96 L112.95 477.40 L113.28 476.84 L113.61 476.28 L113.95 475.72 L114.29 475.17 L114.63 474.61 L114.98 474.06 L115.33 473.51 L115.69 472.96 L116.05 472.41 L116.41 471.86 L116.78 471.32 L117.16 470.77 L117.53 470.23 L117.92 469.69 L118.31 469.15 L118.70 468.62 L119.10 468.08 L119.50 467.55 L119.91 467.02 L120.32 466.49 L120.74 465.96 L121.17 465.43 L121.60 464.91 L122.04 464.39 L122.48 463.87 L122.93 463.36 L123.39 462.84 L123.85 462.33 L124.31 461.83 L124.78 461.32 L125.26 460.82 L125.74 460.33 L126.23 459.84 L126.72 459.35 L127.21 458.87 L127.72 458.39 L128.22 457.91 L128.73 457.45 L129.25 456.99 L129.77 456.53 L130.29 456.08 L130.82 455.63 L131.35 455.20 L131.89 454.76 L132.43 454.34 L132.97 453.92 L133.52 453.51 L134.08 453.11 L134.63 452.71 L135.19 452.33 L135.75 451.95 L136.32 451.58 L136.89 451.21 L137.46 450.86 L138.04 450.52 L138.62 450.18 L139.20 449.85 L139.79 449.54 L140.37 449.23 L140.97 448.93 L141.56 448.65 L142.15 448.37 L142.75 448.11 L143.35 447.85 L143.96 447.61 L144.56 447.38 L145.17 447.16 L145.78 446.95 L146.39 446.75 L147.00 446.57 L147.62 446.40 L148.23 446.24 L148.85 446.10 L149.47 445.96 L150.09 445.84 L150.71 445.74 L151.34 445.65 L151.96 445.57 L152.59 445.50 L153.21 445.46 L153.84 445.42 L154.47 445.40 L155.10 445.40 L155.73 445.41 L156.36 445.43 L156.99 445.48 L157.62 445.53 L158.25 445.61 L158.88 445.70 L159.51 445.80 L160.14 445.92 L160.77 446.05 L161.39 446.20 L162.02 446.36 L162.64 446.54 L163.27 446.73 L163.89 446.93 L164.51 447.15 L165.12 447.38 L165.73 447.63 L166.34 447.88 L166.95 448.15 L167.55 448.44 L168.15 448.73 L168.75 449.04 L169.34 449.35 L169.93 449.68 L170.51 450.02 L171.09 450.38 L171.66 450.74 L172.23 451.11 L172.79 451.50 L173.34 451.89 L173.89 452.30 L174.44 452.71 L174.97 453.14 L175.50 453.57 L176.03 454.02 L176.54 454.47 L177.05 454.93 L177.55 455.40 L178.05 455.88 L178.53 456.36 L179.01 456.86 L179.48 457.36 L179.94 457.87 L180.39 458.39 L180.83 458.91 L181.26 459.45 L181.68 459.99 L182.09 460.53 L182.49 461.08 L182.88 461.64 L183.26 462.20 L183.63 462.77 L183.99 463.35 L184.34 463.93 L184.67 464.51 L185.00 465.10 L185.31 465.70 L185.61 466.30 L185.89 466.90 L186.17 467.51 L186.43 468.12 L186.68 468.74 L186.91 469.36 L187.13 469.98 L187.34 470.60 L187.53 471.23 L187.71 471.86 L187.87 472.50 L188.02 473.13 L188.15 473.77 L188.27 474.41 L188.37 475.05 L188.46 475.69 L188.53 476.33 L188.58 476.98 L188.62 477.62 L188.64 478.27 L188.64 478.91 L188.63 479.56 L188.60 480.20 L188.55 480.85 L188.48 481.49 L188.40 482.14 L188.29 482.78 L188.17 483.42 L188.04 484.06 L187.88 484.70 L187.71 485.33 L187.52 485.96 L187.31 486.59 L187.09 487.21 L186.85 487.83 L186.60 488.45 L186.33 489.06 L186.04 489.66 L185.74 490.26 L185.43 490.85 L185.10 491.43 L184.76 492.01 L184.40 492.58 L184.03 493.14 L183.64 493.69 L183.25 494.23 L182.84 494.76 L182.42 495.29 L181.98 495.80 L181.54 496.30 L181.08 496.79 L180.61 497.27 L180.13 497.74 L179.64 498.19 L179.13 498.63 L178.62 499.06 L178.10 499.48 L177.57 499.88 L177.02 500.27 L176.47 500.64 L175.92 501.01 L175.35 501.36 L174.78 501.70 L174.20 502.03 L173.61 502.36 L173.02 502.67 L172.42 502.97 L171.81 503.27 L171.20 503.56 L170.59 503.84 L169.97 504.11 L169.35 504.37 L168.73 504.63 L168.11 504.89 L167.48 505.13 L166.85 505.38 L166.22 505.62 L165.59 505.85 L164.96 506.08 L164.32 506.31 L163.69 506.54 L163.06 506.76 L162.44 506.99 L161.81 507.21 L161.19 507.43 L160.57 507.65 L159.95 507.87 L159.33 508.09 L158.72 508.31 L158.12 508.53 L157.52 508.76 L156.93 508.99 L156.34 509.22 L155.76 509.45 L155.18 509.69" stroke="#92cddc" stroke-width="2.9"/>
</g>
<path d="M32.6 263.7 L40.6 267.3 L34.0 270.2 C31.8 271.2 31.6 272.4 33.9 272.3" fill="none" stroke="#000" stroke-width="1.95" stroke-linecap="round" stroke-linejoin="round"/>
<path d="M31.9 263.0 L33.6 262.9 L34.2 265.0 L32.0 265.0 Z" fill="#000"/>
<polygon points="182.00,452.35 188.80,466.25 175.20,466.25" fill="#ff6600" stroke="#111" stroke-width="1.2" stroke-linejoin="round" filter="url(#sh)"/>
<polygon points="212.10,415.25 218.90,429.15 205.30,429.15" fill="#ff6600" stroke="#111" stroke-width="1.2" stroke-linejoin="round" filter="url(#sh)"/>
<polygon points="225.40,399.45 232.20,413.35 218.60,413.35" fill="#ff6600" stroke="#111" stroke-width="1.2" stroke-linejoin="round" filter="url(#sh)"/>
<polygon points="232.30,391.35 239.10,405.25 225.50,405.25" fill="#ff6600" stroke="#111" stroke-width="1.2" stroke-linejoin="round" filter="url(#sh)"/>
<polygon points="322.90,308.55 329.70,322.45 316.10,322.45" fill="#ff6600" stroke="#111" stroke-width="1.2" stroke-linejoin="round" filter="url(#sh)"/>
<polygon points="498.00,260.45 504.80,274.35 491.20,274.35" fill="#ff6600" stroke="#111" stroke-width="1.2" stroke-linejoin="round" filter="url(#sh)"/>
<g stroke="#fff" stroke-width="11" stroke-linecap="round" stroke-linejoin="round" fill="none" opacity="1"><path d="M542.5 351 L503 283 M503.5 295.5 L503 283 L513.2 288.7"/></g>
<g stroke="#f00" stroke-width="4.2" stroke-linecap="round" stroke-linejoin="round" fill="none"><path d="M542.5 351 L503.5 283.5 M503.5 295.5 L502.8 282.8 L513.2 288.7"/></g>
</svg>
<div id="txt">
<div class="yl" style="top:506.70px">0</div><div class="yl" style="top:457.20px">0.1</div><div class="yl" style="top:407.70px">0.2</div><div class="yl" style="top:358.20px">0.3</div><div class="yl" style="top:308.70px">0.4</div><div class="yl" style="top:259.20px">0.5</div><div class="yl" style="top:209.70px">0.6</div><div class="yl" style="top:160.20px">0.7</div><div class="yl" style="top:110.70px">0.8</div><div class="yl" style="top:61.20px">0.9</div><div class="yl" style="top:11.70px">1</div>
<div class="xl" style="left:62.90px">0</div><div class="xl" style="left:138.10px">0.1</div><div class="xl" style="left:213.30px">0.2</div><div class="xl" style="left:288.50px">0.3</div><div class="xl" style="left:363.70px">0.4</div><div class="xl" style="left:438.90px">0.5</div><div class="xl" style="left:514.10px">0.6</div><div class="xl" style="left:589.30px">0.7</div>
<div id="qt">q</div>
</div>
</body></html>
